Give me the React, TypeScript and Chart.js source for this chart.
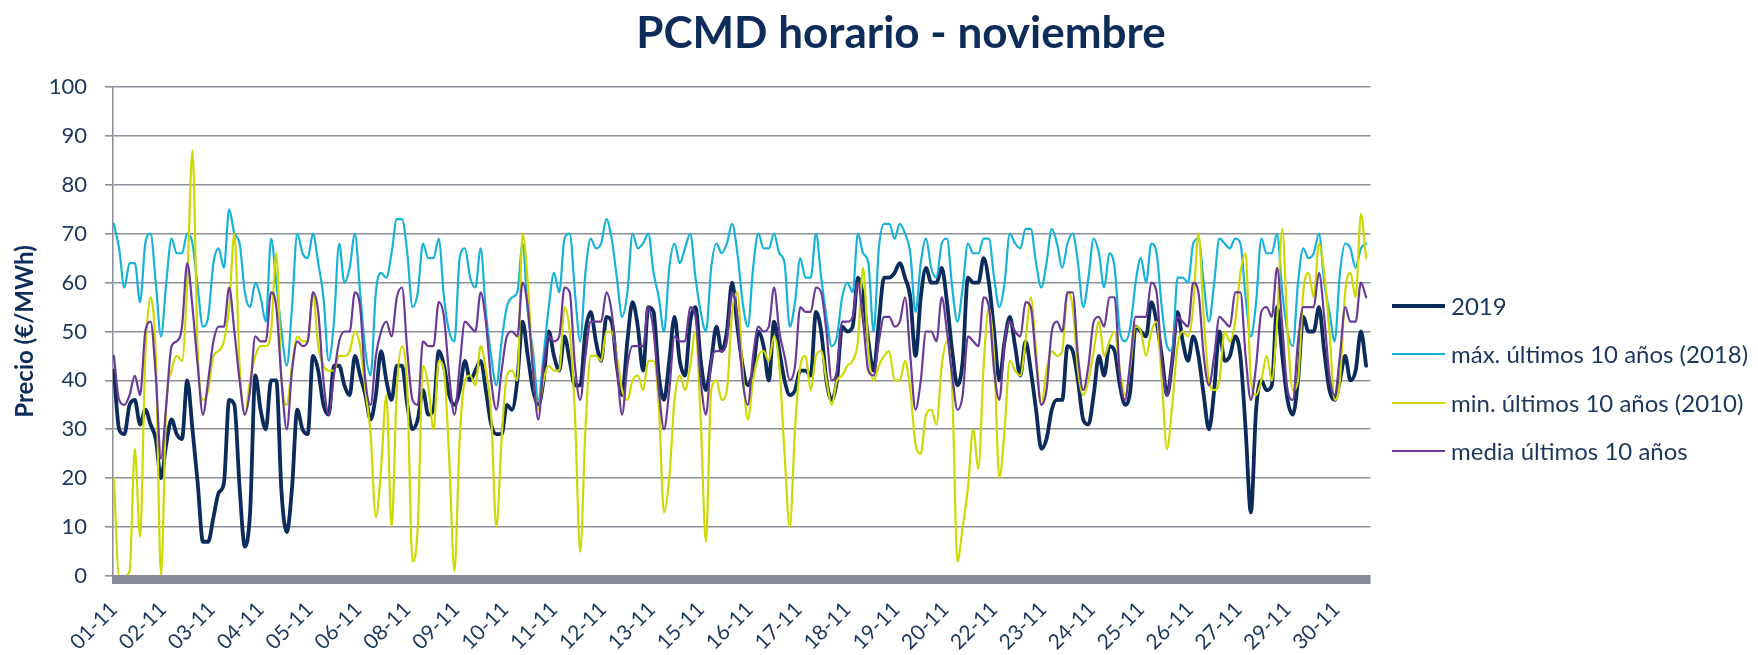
import React, { useEffect, useRef } from 'react';
import { Chart, registerables } from 'chart.js';

Chart.register(...registerables);

// Hourly November prices, read every 3 hours (hours 0,3,...,717), one row per day
const STEP_HOURS = 3;

const precio2019 = [
  42, 30, 29, 35, 36, 31, 34, 31,
  28, 20, 27, 32, 29, 28, 40, 30,
  19, 7, 7, 12, 17, 19, 36, 35,
  18, 6, 13, 41, 34, 30, 40, 40,
  17, 9, 18, 34, 30, 29, 45, 42,
  35, 33, 43, 43, 39, 37, 45, 41,
  37, 32, 37, 46, 40, 36, 43, 43,
  35, 30, 32, 38, 33, 34, 46, 43,
  37, 35, 38, 44, 40, 42, 44, 38,
  31, 29, 29, 35, 34, 40, 52, 45,
  38, 35, 40, 50, 45, 42, 49, 44,
  39, 39, 50, 54, 48, 44, 53, 52,
  43, 37, 48, 56, 51, 42, 55, 54,
  41, 36, 44, 53, 44, 41, 52, 55,
  44, 38, 44, 51, 46, 50, 60, 51,
  43, 39, 42, 50, 47, 40, 52, 46,
  40, 37, 38, 42, 42, 41, 54, 50,
  40, 36, 40, 51, 50, 51, 61, 57,
  48, 42, 52, 61, 61, 62, 64, 61,
  57, 45, 57, 63, 60, 60, 63, 56,
  46, 39, 44, 61, 60, 60, 65, 60,
  50, 40, 48, 53, 47, 41, 48, 42,
  34, 26, 28, 34, 36, 36, 47, 46,
  40, 32, 31, 37, 45, 41, 47, 46,
  39, 35, 38, 51, 50, 49, 56, 52,
  45, 37, 44, 54, 48, 44, 49, 45,
  37, 30, 38, 50, 44, 45, 49, 45,
  30, 13, 34, 40, 38, 39, 55, 45,
  36, 33, 40, 53, 50, 50, 55, 46,
  38, 36, 40, 45, 40, 42, 50, 43,
];

const max2018 = [
  72, 67, 59, 64, 64, 56, 68, 70,
  60, 49, 60, 69, 66, 66, 70, 68,
  59, 51, 53, 64, 67, 63, 75, 70,
  68, 58, 55, 60, 57, 52, 69, 60,
  50, 43, 55, 70, 66, 65, 70, 64,
  57, 44, 52, 68, 60, 63, 70, 58,
  46, 41, 58, 62, 61, 66, 73, 73,
  66, 55, 58, 68, 65, 65, 69, 57,
  50, 48, 65, 67, 61, 59, 67, 54,
  45, 39, 48, 55, 57, 58, 68, 54,
  46, 36, 45, 55, 62, 58, 69, 70,
  58, 48, 62, 69, 67, 68, 73, 69,
  61, 53, 58, 70, 67, 68, 70, 62,
  57, 50, 63, 68, 64, 67, 70, 61,
  54, 50, 63, 68, 66, 68, 72, 66,
  56, 51, 63, 70, 67, 67, 70, 66,
  64, 51, 56, 65, 61, 61, 70, 61,
  53, 47, 49, 57, 60, 58, 70, 66,
  64, 50, 67, 72, 72, 69, 72, 70,
  66, 54, 64, 69, 63, 61, 68, 69,
  59, 52, 59, 68, 66, 66, 69, 69,
  61, 55, 60, 70, 68, 67, 71, 71,
  64, 59, 64, 71, 68, 63, 68, 70,
  64, 55, 61, 69, 66, 59, 66, 63,
  50, 48, 51, 60, 65, 60, 68, 66,
  55, 47, 46, 61, 61, 60, 68, 69,
  60, 52, 60, 69, 68, 67, 69, 68,
  57, 49, 56, 69, 66, 66, 70, 58,
  50, 47, 60, 67, 65, 66, 70, 60,
  54, 48, 62, 68, 67, 63, 67, 68,
];

const min2010 = [
  20, 0, 0, 1, 26, 8, 45, 57,
  45, 0, 35, 42, 45, 44, 60, 87,
  46, 36, 38, 45, 46, 48, 55, 70,
  43, 33, 40, 45, 47, 47, 50, 66,
  40, 35, 43, 49, 48, 48, 58, 47,
  43, 42, 42, 45, 45, 46, 50, 47,
  38, 29, 12, 22, 37, 10, 38, 47,
  38, 3, 10, 43, 39, 30, 44, 42,
  24, 1, 28, 40, 41, 39, 47, 42,
  33, 10, 28, 41, 42, 40, 70, 60,
  42, 34, 40, 43, 42, 42, 55, 50,
  33, 5, 30, 45, 45, 44, 50, 50,
  45, 38, 36, 40, 41, 38, 44, 44,
  35, 13, 20, 36, 41, 38, 43, 50,
  32, 7, 38, 40, 36, 38, 54, 58,
  42, 32, 40, 45, 46, 44, 49, 43,
  25, 10, 30, 43, 45, 38, 45, 46,
  40, 35, 40, 41, 43, 44, 48, 63,
  46, 40, 43, 45, 46, 40, 40, 44,
  38, 27, 25, 33, 34, 31, 43, 48,
  38, 3, 10, 18, 30, 22, 43, 55,
  45, 20, 30, 44, 42, 41, 48, 57,
  46, 35, 42, 46, 45, 46, 58, 55,
  42, 37, 40, 46, 52, 45, 48, 50,
  42, 37, 43, 51, 50, 45, 50, 52,
  40, 26, 35, 47, 50, 49, 55, 70,
  53, 40, 38, 40, 50, 48, 52, 62,
  66, 40, 37, 40, 45, 40, 52, 71,
  50, 38, 40, 58, 62, 57, 68, 62,
  50, 36, 40, 58, 62, 57, 74, 65,
];

const media10 = [
  45, 36, 35, 37, 41, 37, 50, 52,
  41, 24, 35, 47, 48, 51, 64, 55,
  43, 33, 40, 48, 51, 51, 59, 50,
  40, 33, 38, 49, 48, 48, 58, 55,
  40, 30, 42, 48, 47, 48, 58, 54,
  40, 33, 41, 48, 50, 50, 58, 55,
  40, 35, 45, 50, 52, 49, 57, 59,
  46, 36, 35, 48, 47, 47, 56, 53,
  41, 33, 43, 52, 51, 50, 58, 52,
  40, 34, 42, 49, 50, 49, 60, 55,
  42, 32, 43, 49, 48, 49, 59, 58,
  43, 36, 45, 52, 52, 52, 58, 54,
  43, 33, 43, 47, 47, 47, 55, 50,
  38, 30, 38, 49, 48, 48, 55, 53,
  40, 33, 44, 46, 46, 48, 58, 53,
  40, 35, 45, 51, 50, 51, 59, 50,
  45, 40, 43, 55, 54, 54, 59, 58,
  50, 40, 42, 52, 52, 53, 60, 52,
  42, 41, 48, 53, 53, 51, 52, 57,
  45, 34, 40, 50, 50, 48, 57, 50,
  41, 34, 37, 49, 48, 47, 57, 55,
  42, 36, 48, 52, 50, 49, 56, 55,
  44, 35, 38, 50, 52, 50, 58, 58,
  45, 38, 43, 52, 53, 51, 57, 57,
  41, 36, 44, 53, 53, 53, 60, 58,
  44, 37, 44, 53, 52, 51, 60, 58,
  45, 39, 45, 53, 52, 51, 58, 58,
  45, 36, 43, 54, 55, 53, 63, 51,
  38, 36, 48, 55, 55, 55, 62, 53,
  41, 37, 45, 55, 52, 52, 60, 57,
];

const seriesNames = [
  '2019',
  'máx. últimos 10 años (2018)',
  'min. últimos 10 años (2010)',
  'media últimos 10 años',
];
const seriesColors = ['#0b2b5a', '#16b2d7', '#cdd900', '#6b3a97'];
const seriesWidths = [3.8, 2.2, 2.2, 2.2];

const xTickHours = [0, 28, 56, 84, 112, 140, 168, 196, 224, 252, 280, 308, 336, 364, 392, 420, 448, 476, 504, 532, 560, 588, 616, 644, 672, 700];
const xTickLabels = ['01-11', '02-11', '03-11', '04-11', '05-11', '06-11', '08-11', '09-11', '10-11', '11-11', '12-11', '13-11', '15-11', '16-11', '17-11', '18-11', '19-11', '20-11', '22-11', '23-11', '24-11', '25-11', '26-11', '27-11', '29-11', '30-11'];

const TITLE = 'PCMD horario - noviembre';
const Y_TITLE = 'Precio (€/MWh)';
const TEXT_COLOR = '#1b365d';
const GRID_COLOR = '#8d909b';

const toPoints = (vals: number[]) => vals.map((y, i) => ({ x: i * STEP_HOURS, y }));

const bandPlugin = {
  id: 'axisBand',
  afterDatasetsDraw(chart: any) {
    const { ctx, chartArea } = chart;
    ctx.save();
    ctx.fillStyle = '#878b97';
    ctx.fillRect(chartArea.left - 1, chartArea.bottom - 1, chartArea.right - chartArea.left + 1, 9);
    ctx.restore();
  },
};

export default function App() {
  const canvasRef = useRef<HTMLCanvasElement | null>(null);

  useEffect(() => {
    document.body.style.margin = '0';
    let chart: Chart | null = null;
    let cancelled = false;
    const fontFamily = 'Lato, "Open Sans", sans-serif';
    const build = () => {
      if (cancelled || !canvasRef.current) return;
      const allSeries = [precio2019, max2018, min2010, media10];
      chart = new Chart(canvasRef.current, {
        type: 'line',
        data: {
          datasets: allSeries.map((vals, i) => ({
            label: seriesNames[i],
            data: toPoints(vals),
            borderColor: seriesColors[i],
            backgroundColor: seriesColors[i],
            borderWidth: seriesWidths[i],
            pointRadius: 0,
            fill: false,
            cubicInterpolationMode: 'monotone' as const,
            order: 3 - i,
          })),
        },
        options: {
          animation: false,
          responsive: false,
          devicePixelRatio: 1,
          layout: { padding: { left: 0, top: 87, right: 387.5, bottom: 0 } },
          plugins: { legend: { display: false }, tooltip: { enabled: false }, title: { display: false } },
          elements: { line: { borderJoinStyle: 'round', borderCapStyle: 'round' } },
          scales: {
            x: {
              type: 'linear',
              min: -0.5,
              max: 719.5,
              afterBuildTicks: (s: any) => {
                s.ticks = xTickHours.map((v) => ({ value: v }));
              },
              afterFit: (s: any) => {
                s.height = 79;
              },
              grid: { display: false, drawTicks: false },
              border: { display: false },
              ticks: {
                autoSkip: false,
                minRotation: 45,
                maxRotation: 45,
                padding: 21,
                color: TEXT_COLOR,
                font: { family: fontFamily, size: 21 },
                callback: (v: any) => {
                  const idx = xTickHours.indexOf(Number(v));
                  return idx >= 0 ? xTickLabels[idx] : '';
                },
              },
            },
            y: {
              min: 0,
              max: 100,
              afterFit: (s: any) => {
                s.width = 113;
              },
              ticks: {
                stepSize: 10,
                padding: 18,
                color: TEXT_COLOR,
                font: { family: fontFamily, size: 22 },
              },
              grid: { color: GRID_COLOR, lineWidth: 1.6, tickLength: 8, drawTicks: true },
              border: { display: true, color: GRID_COLOR, width: 1.6 },
              title: {
                display: true,
                text: Y_TITLE,
                color: '#0d2c5a',
                font: { family: fontFamily, size: 24, weight: 'bold' },
                padding: { top: 11, bottom: 0 },
              },
            },
          },
        },
        plugins: [bandPlugin],
      } as any);
    };
    const fontsApi = (document as any).fonts;
    if (fontsApi && fontsApi.load) {
      Promise.all([
        fontsApi.load('22px Lato'),
        fontsApi.load('bold 24px Lato'),
      ]).then(build, build);
    } else {
      build();
    }
    return () => {
      cancelled = true;
      if (chart) chart.destroy();
    };
  }, []);

  const legendTops = [306, 354, 403, 451];

  return (
    <div style={{ position: 'relative', width: 1758, height: 655, overflow: 'hidden', background: '#ffffff' }}>
      <canvas ref={canvasRef} width={1758} height={655} style={{ position: 'absolute', left: 0, top: 0 }} />
      <div
        style={{
          position: 'absolute',
          left: 901,
          top: 9,
          transform: 'translateX(-50%)',
          whiteSpace: 'nowrap',
          fontFamily: 'Lato, "Open Sans", sans-serif',
          fontWeight: 'bold',
          fontSize: 44,
          lineHeight: '44px',
          color: '#0d2c5a',
        }}
      >
        {TITLE}
      </div>
      {seriesNames.map((name, i) => (
        <div key={name} style={{ position: 'absolute', left: 1392, top: legendTops[i] - 15, height: 30, display: 'flex', alignItems: 'center' }}>
          <div style={{ width: 53, height: seriesWidths[i] > 3 ? 3.5 : 2.5, background: seriesColors[i], marginRight: 6 }} />
          <div
            style={{
              fontFamily: 'Lato, "Open Sans", sans-serif',
              fontSize: 24,
              lineHeight: '30px',
              color: TEXT_COLOR,
              whiteSpace: 'nowrap',
            }}
          >
            {name}
          </div>
        </div>
      ))}
    </div>
  );
}
